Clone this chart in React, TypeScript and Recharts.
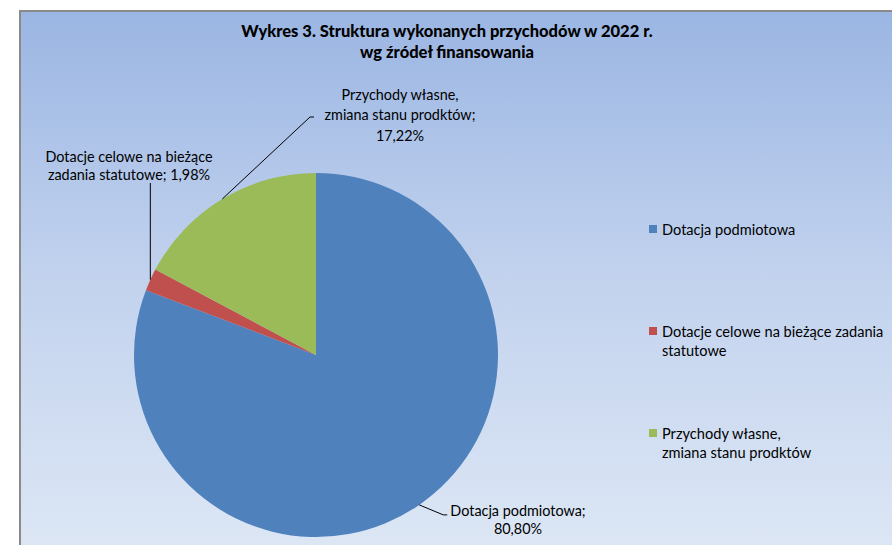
import React from "react";
import { PieChart, Pie, Cell } from "recharts";

// Values (percent of revenue, 2022)
const categories = [
  "Dotacja podmiotowa",
  "Dotacje celowe na bieżące zadania statutowe",
  "Przychody własne, zmiana stanu prodktów",
];
const shares = [80.8, 1.98, 17.22];
const colors = ["#4f81bd", "#c0504d", "#9bbb59"];

// label text lines as Excel wrapped them
const labelLines = [
  ["Dotacja podmiotowa;", "80,80%"],
  ["Dotacje celowe na bieżące", "zadania statutowe; 1,98%"],
  ["Przychody własne,", "zmiana stanu prodktów;", "17,22%"],
];
const legendLines = [
  ["Dotacja podmiotowa"],
  ["Dotacje celowe na bieżące zadania", "statutowe"],
  ["Przychody własne,", "zmiana stanu prodktów"],
];

const data = categories.map((name, i) => ({ name, value: shares[i] }));

const FONT = "Lato, 'Open Sans', sans-serif";
const RAD = Math.PI / 180;

// where each data label sits, relative to the pie centre
const labelPlace = [
  { tx: 202, ty: [155, 173], path: (x: number, y: number) => [[x, y], [x + 24, y + 10], [x + 28, y + 10]] },
  { tx: -187, ty: [-199, -181], path: (x: number, y: number, cy: number) => [[x, y], [x, cy - 172]] },
  { tx: 84, ty: [-261, -241, -220], path: (x: number, y: number, cy: number, cx: number) => [[x, y], [cx - 6, cy - 238], [cx - 2, cy - 238]] },
];

const renderLabel = (props: any) => {
  const { cx, cy, midAngle, outerRadius, index } = props;
  const ax = cx + outerRadius * Math.cos(-midAngle * RAD);
  const ay = cy + outerRadius * Math.sin(-midAngle * RAD);
  const place = labelPlace[index];
  const pts = place.path(ax, ay, cy, cx).map((p) => p.join(",")).join(" ");
  return (
    <g key={`lbl-${index}`}>
      <polyline points={pts} fill="none" stroke="#000" strokeWidth={1} />
      {labelLines[index].map((line, j) => (
        <text
          key={j}
          x={cx + place.tx}
          y={cy + place.ty[j]}
          textAnchor="middle"
          dominantBaseline="central"
          fontFamily={FONT}
          fontSize={14.4}
          fill="#000"
        >
          {line}
        </text>
      ))}
    </g>
  );
};

const legendTops = [220, 322, 424];

export default function App() {
  return (
    <div style={{ position: "absolute", left: 0, top: 0, width: 892, height: 545, background: "#fff", overflow: "hidden" }}>
      {/* chart area */}
      <div
        style={{
          position: "absolute",
          left: 19,
          top: 10,
          width: 880,
          height: 545,
          borderTop: "2px solid #8a8a8a",
          borderLeft: "2px solid #8a8a8a",
          background: "linear-gradient(to bottom, #9bb6e3 0%, #c3d3ee 50%, #dde7f5 100%)",
        }}
      />
      {/* title */}
      <div
        style={{
          position: "absolute",
          left: 0,
          top: 21,
          width: 894,
          textAlign: "center",
          fontFamily: FONT,
          fontWeight: 900,
          fontSize: 16.5,
          lineHeight: "21px",
          color: "#000",
        }}
      >
        Wykres 3. Struktura wykonanych przychodów w 2022 r.
        <br />
        wg źródeł finansowania
      </div>
      <div style={{ position: "absolute", left: 0, top: 0 }}>
        <PieChart width={892} height={545} margin={{ top: 0, right: 0, bottom: 0, left: 0 }}>
          <Pie
            data={data}
            dataKey="value"
            nameKey="name"
            cx={316}
            cy={355}
            outerRadius={182}
            startAngle={90}
            endAngle={-270}
            stroke="none"
            label={renderLabel}
            labelLine={false}
            isAnimationActive={false}
          >
            {data.map((d, i) => (
              <Cell key={d.name} fill={colors[i]} />
            ))}
          </Pie>
        </PieChart>
      </div>
      {/* legend */}
      {legendLines.map((lines, i) => (
        <div
          key={i}
          style={{
            position: "absolute",
            left: 649,
            top: legendTops[i],
            fontFamily: FONT,
            fontSize: 14.6,
            lineHeight: "19px",
            color: "#000",
          }}
        >
          <span
            style={{
              position: "absolute",
              left: 0,
              top: 5,
              width: 8,
              height: 8,
              background: colors[i],
            }}
          />
          <div style={{ marginLeft: 13, whiteSpace: "nowrap" }}>
            {lines.map((l, j) => (
              <div key={j}>{l}</div>
            ))}
          </div>
        </div>
      ))}
    </div>
  );
}
